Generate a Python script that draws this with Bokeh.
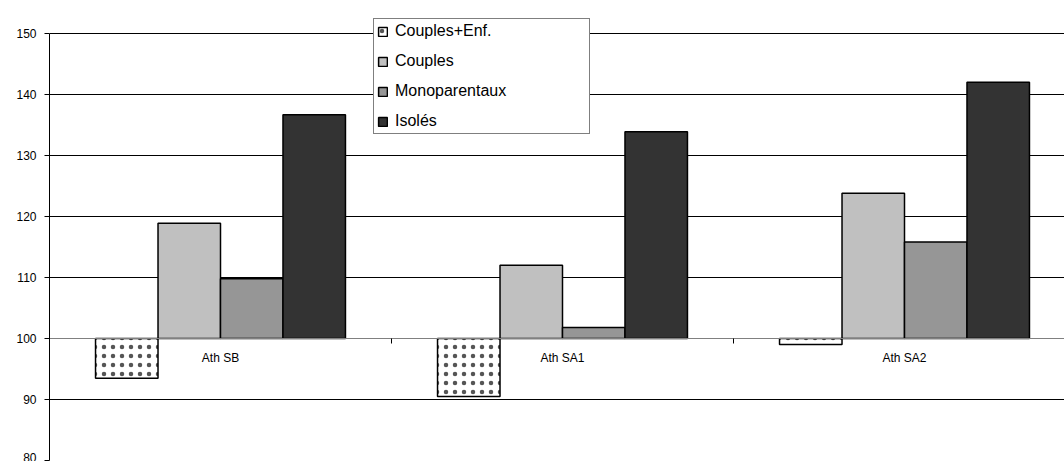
import numpy as np
from bokeh.plotting import figure
from bokeh.models import Range1d, FixedTicker, Legend, LegendItem, ColumnDataSource
from bokeh.core.properties import value
from bokeh.embed import file_html
from bokeh.resources import INLINE

# ---- data ----
categories = ["Ath SB", "Ath SA1", "Ath SA2"]
series = ["Couples+Enf.", "Couples", "Monoparentaux", "Isolés"]
couples_enf = [93.5, 90.5, 99.0]
couples = [118.9, 112.0, 123.8]
monoparentaux = [109.8, 101.8, 115.8]
isoles = [136.7, 133.9, 142.0]
y_ticks = [80, 90, 100, 110, 120, 130, 140, 150]
baseline = 100

# ---- styles ----
FONT = "Liberation Sans"
fills = ["#FFFFFF", "#C0C0C0", "#969696", "#333333"]
values_list = [couples_enf, couples, monoparentaux, isoles]

bar_w = 0.1827
offsets = [-1.5 * bar_w, -0.5 * bar_w, 0.5 * bar_w, 1.5 * bar_w]
centers = np.arange(len(categories)) + 0.5

px_per_unit = 6.1
fig_w, fig_h = 1064, 461
frame_left, frame_top, frame_bottom = 49, 18, 460
frame_h = frame_bottom - frame_top
y_start = 80
y_end = y_start + frame_h / px_per_unit
frame_w = fig_w - frame_left
x_end = frame_w / 342.0

p = figure(width=fig_w, height=fig_h, output_backend="svg", toolbar_location=None,
           x_range=Range1d(0, x_end), y_range=Range1d(y_start, y_end),
           min_border_left=frame_left, min_border_top=frame_top,
           min_border_right=0, min_border_bottom=fig_h - frame_bottom)
p.outline_line_color = None
p.background_fill_color = "white"
p.border_fill_color = "white"

# y axis
p.yaxis.ticker = FixedTicker(ticks=y_ticks)
p.yaxis.bounds = (y_ticks[0], y_ticks[-1])
p.yaxis.axis_line_color = "black"
p.yaxis.axis_line_width = 1
p.yaxis.major_tick_out = 5
p.yaxis.major_tick_in = 0
p.yaxis.minor_tick_line_color = None
p.yaxis.major_tick_line_color = "black"
p.yaxis.major_label_standoff = 8
p.yaxis.major_label_text_font = FONT
p.yaxis.major_label_text_font_size = "12px"
p.yaxis.major_label_text_color = "black"

# x axis fixed at the 100 line (ticks at category boundaries)
p.xaxis.fixed_location = baseline
p.xaxis.ticker = FixedTicker(ticks=list(range(len(categories) + 1)))
p.xaxis.major_label_overrides = {i: " " for i in range(len(categories) + 1)}
p.xaxis.major_label_standoff = 0
p.xaxis.axis_line_color = "#808080"
p.xaxis.major_tick_out = 5
p.xaxis.major_tick_in = 0
p.xaxis.major_tick_line_color = "black"
p.xaxis.minor_tick_line_color = None

p.xgrid.grid_line_color = None
p.ygrid.ticker = FixedTicker(ticks=y_ticks)
p.ygrid.grid_line_color = "black"
p.ygrid.grid_line_width = 1

items = []
for name, vals, fill, off in zip(series, values_list, fills, offsets):
    src = ColumnDataSource(dict(x=centers + off, top=vals, bottom=[baseline] * len(vals)))
    kw = {}
    if name == "Couples+Enf.":
        kw = dict(hatch_pattern="dot", hatch_scale=9, hatch_color="#555555", hatch_weight=0.5)
    r = p.vbar(x="x", top="top", bottom="bottom", width=bar_w, source=src,
               fill_color=fill, line_color="black", line_width=1.5, **kw)
    items.append(LegendItem(label=name, renderers=[r]))

# category labels under the 100 line
p.text(x=centers, y=[baseline] * len(categories), text=categories,
       text_font=value(FONT), text_font_size="12px", text_color="black",
       text_align="center", text_baseline="top", y_offset=12)

legend = Legend(items=items, location=(373 - frame_left, frame_bottom - 134),
                orientation="vertical", padding=3, spacing=12, margin=0,
                glyph_width=11, glyph_height=11, label_height=18,
                label_standoff=7, label_width=191,
                label_text_font=FONT, label_text_font_size="16px", label_text_color="black",
                border_line_color="black", border_line_width=1,
                background_fill_color="white", background_fill_alpha=1)
p.add_layout(legend, "center")

open("out.html", "w").write(file_html(p, INLINE))
